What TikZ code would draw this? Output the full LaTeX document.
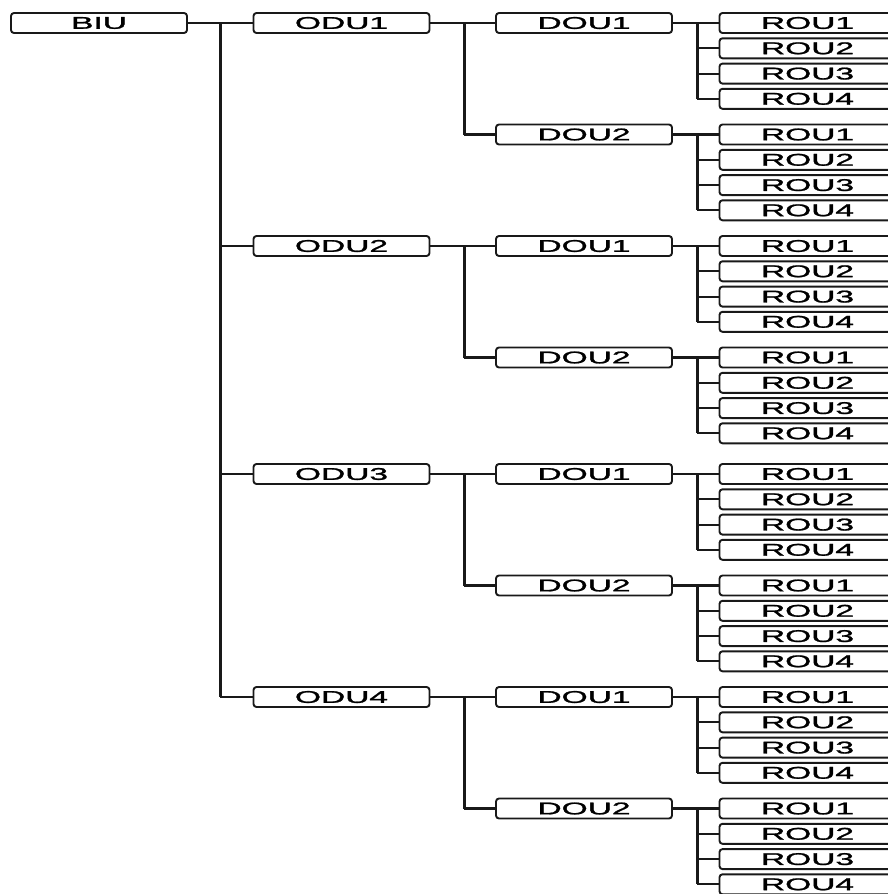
\documentclass[tikz,border=0pt]{standalone}
\usepackage{fontspec}
\setmainfont{Liberation Sans}
\newfontfamily\boxfont[FakeBold=1.2]{Liberation Sans}
\tikzset{
  unit/.style={draw=black!90, line width=1.9pt, rounded corners=3pt, fill=white,
    minimum width=176pt, minimum height=20pt, inner sep=0pt,
    font=\boxfont\fontsize{17}{17}\selectfont},
  conn/.style={line width=2.1pt, draw=black!90},
  busline/.style={line width=3pt, draw=black!90},
}
\newcommand{\wideText}[1]{\scalebox{1.97}[1]{#1}}
\begin{document}
\begin{tikzpicture}[x=1pt,y=-1pt]
\useasboundingbox (0,0) rectangle (888,894);
\clip (0,0) rectangle (888,894);
\coordinate (tx) at (220,0);
\coordinate (dx) at (464,0);
\coordinate (rx) at (697,0);
\node[unit] (biu) at (99,23) {\wideText{BIU}};
\foreach \i/\y in {1/23,2/246,3/474,4/697} {
  \node[unit] (odu\i) at (341.5,\y) {\wideText{ODU\i}};
  \foreach \j/\dy in {1/0,2/111.5} {
    \node[unit] (dou\i\j) at (584,\y+\dy) {\wideText{DOU\j}};
    \foreach \k/\ky in {1/0,2/25.3,3/50.6,4/75.8} {
      \node[unit] (rou\i\j\k) at (807.5,\y+\dy+\ky) {\wideText{ROU\k}};
    }
  }
}
% BIU to ODUs
\draw[conn] (biu.east) -- (biu.east -| tx);
\draw[busline] (biu.east -| tx) -- (odu4.west -| tx);
\foreach \i in {1,2,3,4} {
  \draw[conn] (odu\i.west -| tx) -- (odu\i.west);
  % ODU to DOUs
  \draw[conn] (odu\i.east) -- (dou\i1.west);
  \draw[busline] (odu\i.east -| dx) -- (dou\i2.west -| dx);
  \draw[conn] (dou\i2.west -| dx) -- (dou\i2.west);
  \foreach \j in {1,2} {
    % DOU to ROUs
    \draw[conn] (dou\i\j.east) -- (rou\i\j1.west);
    \draw[busline] (dou\i\j.east -| rx) -- (rou\i\j4.west -| rx);
    \foreach \k in {2,3,4} {
      \draw[conn] (rou\i\j\k.west -| rx) -- (rou\i\j\k.west);
    }
  }
}
\end{tikzpicture}
\end{document}
